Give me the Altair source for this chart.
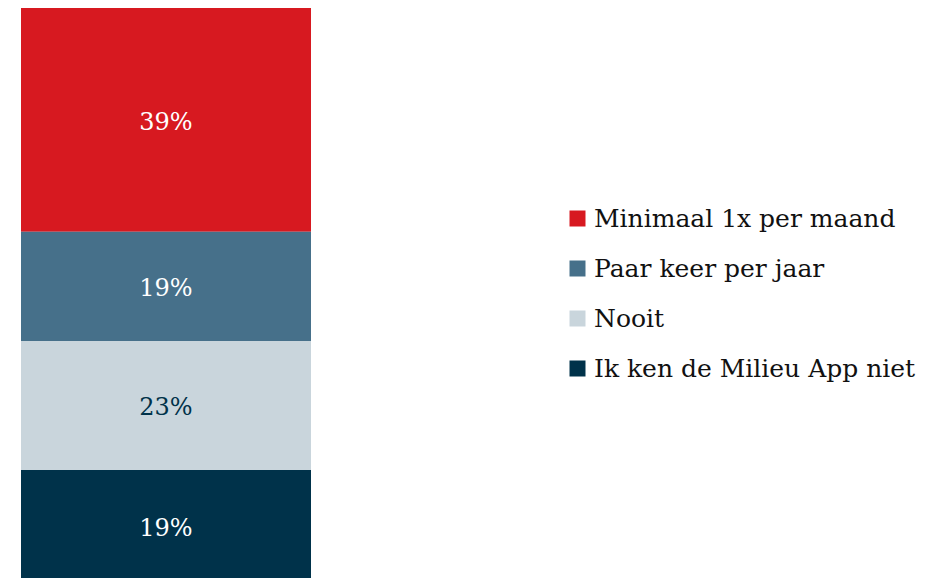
import altair as alt
import pandas as pd

categories = ["Minimaal 1x per maand", "Paar keer per jaar", "Nooit", "Ik ken de Milieu App niet"]
values = [39.0, 19.0, 22.5, 19.5]
labels = ["39%", "19%", "23%", "19%"]
stack_order = [4, 3, 2, 1]
colors = ["#D71920", "#46708A", "#C9D5DC", "#00324A"]
text_colors = ["#FFFFFF", "#FFFFFF", "#00324A", "#FFFFFF"]

df = pd.DataFrame({
    "bar": ["all"] * 4,
    "cat": categories,
    "value": values,
    "label": labels,
    "ord": stack_order,
    "tcol": text_colors,
})

base = alt.Chart(df).transform_stack(
    stack="value", as_=["y0", "y1"], groupby=["bar"], sort=[alt.SortField("ord", order="ascending")]
).transform_calculate(mid="(datum.y0 + datum.y1) / 2")

yscale = alt.Scale(domain=[0, 100], nice=False, zero=True)
xenc = alt.X("bar:N", axis=None, scale=alt.Scale(paddingInner=0, paddingOuter=0))

bars = base.mark_bar(stroke=None).encode(
    x=xenc,
    y=alt.Y("y0:Q", scale=yscale, axis=None),
    y2="y1:Q",
    color=alt.Color(
        "cat:N",
        scale=alt.Scale(domain=categories, range=colors),
        sort=categories,
        legend=alt.Legend(
            title=None,
            orient="none",
            legendX=544,
            legendY=198,
            symbolType="square",
            symbolSize=256,
            symbolStrokeWidth=0,
            symbolOpacity=1,
            labelFont="DejaVu Serif",
            labelFontSize=25,
            labelColor="#111111",
            labelLimit=500,
            labelOffset=4,
            rowPadding=24,
        ),
    ),
)

texts = base.mark_text(font="DejaVu Serif", fontSize=24, baseline="middle", align="center", dy=3).encode(
    x=xenc,
    y=alt.Y("mid:Q", scale=yscale),
    text="label:N",
    color=alt.Color("tcol:N", scale=None),
)

chart = alt.layer(bars, texts).properties(
    width=290,
    height=574,
    padding={"left": 13, "top": 0, "right": 0, "bottom": 0},
).configure_view(stroke=None)

chart.save("out.html", embed_options={"renderer": "svg", "actions": False})
